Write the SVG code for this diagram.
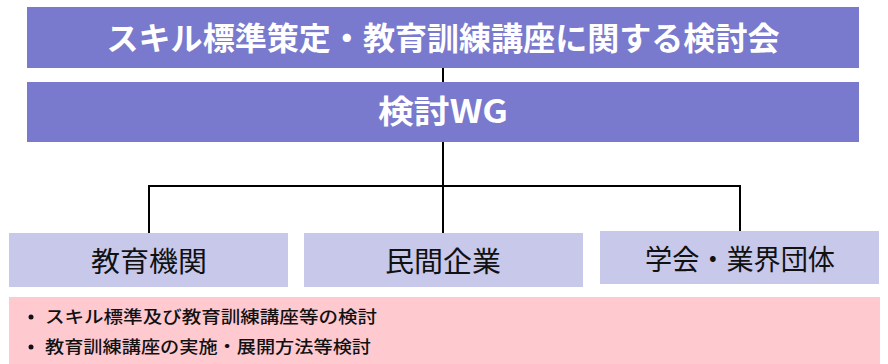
<svg xmlns="http://www.w3.org/2000/svg" width="888" height="364" viewBox="0 0 888 364">
<style>
.dark{fill:#7979CD}
.light{fill:#C8C8EA}
.pink{fill:#FFC9D0}
.tw{fill:#FFFFFF;font-family:"Noto Sans CJK JP","Noto Sans",sans-serif;font-weight:bold;font-size:32px;text-anchor:middle}
.tn{fill:#111111;font-family:"Noto Sans CJK JP","Noto Sans",sans-serif;font-size:28px;text-anchor:middle}
.tb{fill:#111111;font-family:"Noto Sans CJK JP","Noto Sans",sans-serif;font-size:17px;font-weight:500}
.ln{stroke:#000;stroke-width:2;fill:none}
</style>
<rect width="888" height="364" fill="#FFFFFF"/>
<g id="connectors">
<line class="ln" x1="443" y1="67" x2="443" y2="83"/>
<polyline class="ln" points="443,141 443,186"/>
<polyline class="ln" points="149,233 149,186 740,186 740,231"/>
<line class="ln" x1="443" y1="186" x2="443" y2="233"/>
</g>
<g id="n-committee">
<rect class="dark" x="27" y="7" width="832" height="61"/>
<text class="tw" x="443" y="50" textLength="673" lengthAdjust="spacingAndGlyphs">スキル標準策定・教育訓練講座に関する検討会</text>
</g>
<g id="n-wg">
<rect class="dark" x="27" y="82" width="832" height="60"/>
<text class="tw" x="443" y="123" textLength="130" lengthAdjust="spacingAndGlyphs">検討WG</text>
</g>
<g id="n-edu">
<rect class="light" x="9" y="233" width="279" height="54"/>
<text class="tn" x="149" y="272" textLength="116" lengthAdjust="spacingAndGlyphs">教育機関</text>
</g>
<g id="n-corp">
<rect class="light" x="304" y="233" width="279" height="54"/>
<text class="tn" x="443" y="272" textLength="116" lengthAdjust="spacingAndGlyphs">民間企業</text>
</g>
<g id="n-assoc">
<rect class="light" x="600" y="231" width="279" height="53"/>
<text class="tn" x="740" y="270" textLength="190" lengthAdjust="spacingAndGlyphs">学会・業界団体</text>
</g>
<g id="n-tasks">
<rect class="pink" x="9" y="297" width="871" height="67"/>
<circle cx="31" cy="317" r="2.5" fill="#111"/>
<text class="tb" x="45" y="323" textLength="332" lengthAdjust="spacingAndGlyphs">スキル標準及び教育訓練講座等の検討</text>
<circle cx="31" cy="347" r="2.5" fill="#111"/>
<text class="tb" x="45" y="353" textLength="326" lengthAdjust="spacingAndGlyphs">教育訓練講座の実施・展開方法等検討</text>
</g>
</svg>
